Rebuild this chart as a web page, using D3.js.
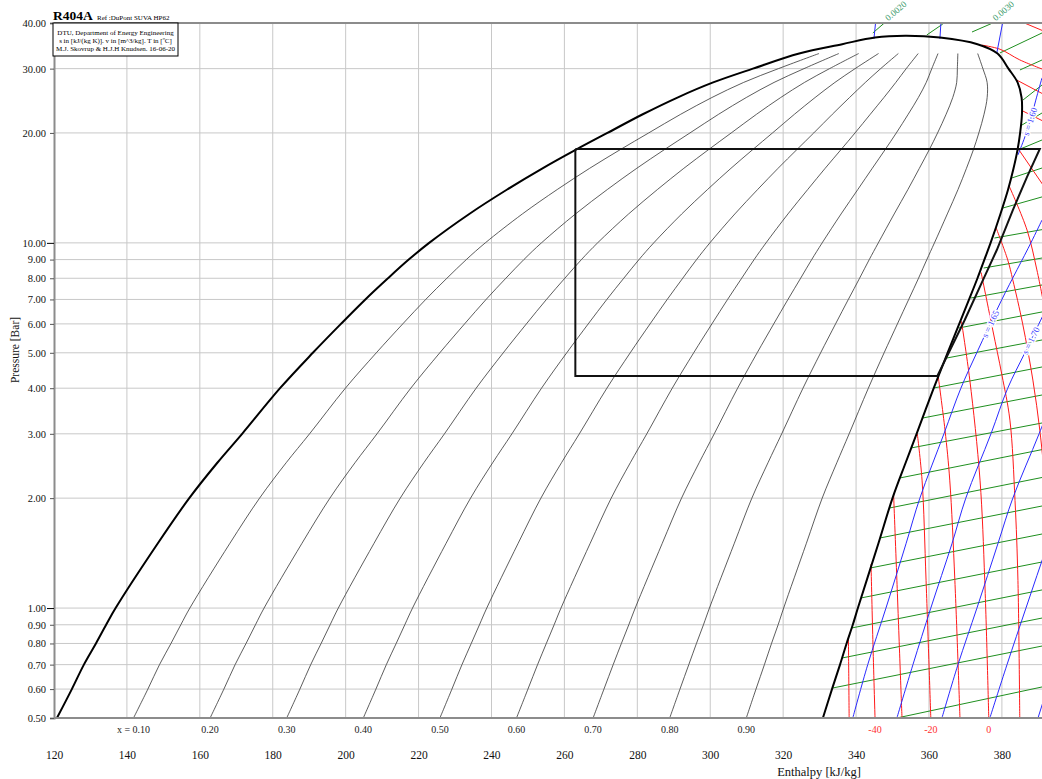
<!DOCTYPE html>
<html>
<head>
<meta charset="utf-8">
<script src="https://cdn.jsdelivr.net/npm/d3@7"></script>
<style>
  body { margin: 0; background: #fff; overflow: hidden; }
  text { font-family: "Liberation Serif", "Times New Roman", serif; }
</style>
</head>
<body>
<div id="chart"></div>
<script>
// axis ticks
const pTicks = [0.5, 0.6, 0.7, 0.8, 0.9, 1, 2, 3, 4, 5, 6, 7, 8, 9, 10, 20, 30, 40];
const hTicks = [120, 140, 160, 180, 200, 220, 240, 260, 280, 300, 320, 340, 360, 380];
const qualities = [0.1, 0.2, 0.3, 0.4, 0.5, 0.6, 0.7, 0.8, 0.9];

// saturation curve (P in bar, h in kJ/kg)
const satP  = [0.5, 0.6, 0.7, 0.8, 0.9, 1, 1.5, 2, 2.5, 3, 4, 5, 6, 7, 8, 9, 10, 12, 14, 16, 18, 20, 22.5, 25, 27.5, 30, 33, 35, 36.5];
const satHl = [120.8, 124.9, 128.2, 131.5, 134.3, 136.9, 148.4, 157.1, 164.8, 171.6, 182.0, 191.0, 198.7, 205.4, 211.6, 217.3, 222.9, 233.9, 244.3, 254.0, 263.2, 271.8, 281.5, 291.0, 300.8, 311.7, 324.4, 336.2, 345.2];
const satHv = [330.9, 333.4, 335.6, 337.4, 339.1, 340.5, 346.1, 350.0, 353.6, 356.6, 361.3, 365.1, 368.3, 371.0, 373.3, 375.2, 376.9, 379.6, 381.7, 383.2, 384.3, 385.0, 385.5, 385.4, 384.3, 381.8, 378.8, 373.3, 363.0];
const critPoint = [353.5, 36.9];
const qualityTopP = 33;

// refrigeration cycle
const cycleH = [263.0, 263.0, 362.3, 369.8, 374.8, 378.6, 383.0, 386.9, 390.4, 263.0];
const cycleP = [18.07, 4.32, 4.32, 6.15, 7.91, 9.56, 12.3, 15.16, 18.07, 18.07];

// isotherms [h, P]
const isoTemps = [-50, -40, -30, -20, -10, 0, 10, 20, 30, 40, 50, 60, 70, 80];
const isothermLines = [
  [[337.9, 0.83], [338.0, 0.65], [338.1, 0.5]],
  [[344.1, 1.32], [344.6, 0.82], [345.2, 0.5]],
  [[350.3, 2.04], [351.2, 1.19], [352.6, 0.5]],
  [[356.8, 3.0], [358.1, 2.24], [359.2, 1.19], [360.5, 0.5]],
  [[362.5, 4.33], [364.4, 3.07], [365.7, 2.24], [367.1, 1.19], [368.5, 0.5]],
  [[368.9, 6.1], [371.2, 4.21], [374.0, 2.24], [375.3, 1.19], [376.4, 0.5]],
  [[374.3, 8.3], [377.5, 5.77], [380.0, 4.35], [382.2, 3.27], [383.6, 1.97], [384.4, 1.19], [384.9, 0.5]],
  [[378.4, 11.0], [381.6, 8.98], [383.0, 7.91], [385.7, 6.0], [388.5, 4.21], [390.4, 3.07], [391.8, 2.24]],
  [[382.0, 14.3], [386.9, 10.84], [389.6, 8.43], [391.8, 6.55]],
  [[384.3, 18.2], [391.5, 14.3]],
  [[385.6, 23.0], [391.5, 21.5]],
  [[384.1, 27.9], [391.5, 25.5]],
  [[374.5, 34.8], [379.5, 33.9], [384.9, 31.7], [391.5, 29.8]],
  [[384.9, 40.5], [391.5, 38.0]]
];
const tempLabels = [-40, -20, 0];

// isentropes [h, P]
const isentropeS = [1.45, 1.50, 1.55, 1.60, 1.65, 1.70, 1.75, 1.80, 1.85];
const isentropeLines = [
  [[344.9, 36.2], [345.4, 40.5]],
  [[363.0, 36.2], [363.3, 40.5]],
  [[378.6, 33.1], [380.3, 40.5]],
  [[384.4, 17.4], [386.3, 19.5], [388.0, 22.0], [389.3, 24.6], [391.0, 28.3]],
  [[339.1, 0.5], [343.2, 0.7], [348.2, 1], [353.7, 1.5], [357.5, 2], [364.1, 3], [368.75, 4], [373.1, 5], [380.0, 7], [387.95, 10], [391.0, 11.55]],
  [[351.2, 0.5], [355.6, 0.7], [360.5, 1], [366.3, 1.5], [370.1, 2], [377.0, 3], [381.6, 4], [386.3, 5], [393.4, 7]],
  [[363.55, 0.5], [367.95, 0.7], [373.15, 1], [378.9, 1.5], [383.0, 2], [390.2, 3], [395.1, 4]],
  [[376.7, 0.5], [381.4, 0.7], [386.6, 1], [392.6, 1.5], [397.0, 2]],
  [[389.9, 0.5], [394.5, 0.7]]
];
const sLabels = [{ s: 1.60, p: 21.5 }, { s: 1.65, p: 6.0 }, { s: 1.70, p: 5.4 }];

// isochores [h, P]
const isochoreLines = [
  [[351.2, 0.5], [391.0, 0.608]],
  [[333.55, 0.604], [391.0, 0.787]],
  [[336.2, 0.730], [391.0, 0.939]],
  [[338.8, 0.882], [391.0, 1.121]],
  [[341.4, 1.066], [391.0, 1.337]],
  [[344.0, 1.288], [391.0, 1.595]],
  [[346.6, 1.556], [391.0, 1.903]],
  [[349.15, 1.879], [391.0, 2.278]],
  [[352.0, 2.271], [391.0, 2.716]],
  [[355.1, 2.744], [391.0, 3.212]],
  [[358.3, 3.315], [391.0, 3.832]],
  [[361.3, 4.005], [391.0, 4.572]],
  [[364.9, 4.839], [391.0, 5.421]],
  [[368.2, 5.848], [391.0, 6.469]],
  [[371.5, 7.065], [391.0, 7.667]],
  [[375.0, 8.534], [391.0, 9.089]],
  [[377.95, 10.31], [391.0, 10.87]],
  [[380.3, 12.46], [391.0, 13.36]],
  [[382.75, 15.06], [391.0, 16.03]],
  [[384.4, 17.96], [391.0, 19.13]],
  [[385.5, 21.02], [391.0, 22.68]],
  [[385.8, 24.62], [391.0, 27.06]],
  [[384.95, 29.75], [391.0, 31.68]],
  [[379.45, 33.11], [391.0, 37.56]],
  [[371.8, 37.79], [378.1, 40.25]],
  [[359.4, 37.09], [363.8, 39.75]],
  [[344.6, 37.56], [348.7, 40.76]]
];
const vLabels = [
  { text: "0.0020", h: 349.0, p: 40.3 },
  { text: "0.0030", h: 378.5, p: 40.3 }
];

const W = 1042, H = 779;
const margin = { top: 23, right: 0, bottom: 61, left: 54 };

const svg = d3.select("#chart").append("svg")
  .attr("width", W).attr("height", H)
  .style("background", "#fff");

const x = d3.scaleLinear().domain([120, 391]).range([margin.left, W - margin.right]);
const y = d3.scaleLog().domain([0.5, 40]).range([H - margin.bottom, margin.top]);

svg.append("clipPath").attr("id", "plot-clip")
  .append("rect")
  .attr("x", margin.left).attr("y", margin.top)
  .attr("width", W - margin.left).attr("height", y(0.5) - margin.top);

// grid
svg.append("g").selectAll("line").data(hTicks.slice(1)).join("line")
  .attr("x1", d => x(d)).attr("x2", d => x(d))
  .attr("y1", y(40)).attr("y2", y(0.5))
  .attr("stroke", "#c8c8c8").attr("stroke-width", 1);
svg.append("g").selectAll("line").data(pTicks.slice(1, -1)).join("line")
  .attr("x1", margin.left).attr("x2", W)
  .attr("y1", d => y(d)).attr("y2", d => y(d))
  .attr("stroke", "#c8c8c8").attr("stroke-width", 1);

const line = d3.line().x(d => x(d[0])).y(d => y(d[1]));
const smooth = d3.line().x(d => x(d[0])).y(d => y(d[1])).curve(d3.curveCatmullRom.alpha(0.5));

const plot = svg.append("g").attr("clip-path", "url(#plot-clip)");

// superheated region lines
plot.append("g").selectAll("path").data(isochoreLines).join("path")
  .attr("d", smooth).attr("fill", "none")
  .attr("stroke", "#1f8f1f").attr("stroke-width", 1);
plot.append("g").selectAll("path").data(isothermLines).join("path")
  .attr("d", smooth).attr("fill", "none")
  .attr("stroke", "#ff1a1a").attr("stroke-width", 1);
plot.append("g").selectAll("path").data(isentropeLines).join("path")
  .attr("d", smooth).attr("fill", "none")
  .attr("stroke", "#2a2aff").attr("stroke-width", 1);

// quality lines
qualities.forEach(q => {
  const pts = satP.map((p, i) => [satHl[i] + q * (satHv[i] - satHl[i]), p])
    .filter(d => d[1] <= qualityTopP);
  plot.append("path").datum(pts)
    .attr("d", smooth).attr("fill", "none")
    .attr("stroke", "#333").attr("stroke-width", 0.8);
});

// saturation dome
const dome = satP.map((p, i) => [satHl[i], p])
  .concat([critPoint])
  .concat(satP.map((p, i) => [satHv[i], p]).reverse());
plot.append("path").datum(dome)
  .attr("d", smooth).attr("fill", "none")
  .attr("stroke", "#000").attr("stroke-width", 2);

// cycle
plot.append("path").datum(cycleH.map((h, i) => [h, cycleP[i]]))
  .attr("d", line).attr("fill", "none")
  .attr("stroke", "#111").attr("stroke-width", 2)
  .attr("stroke-linejoin", "miter");

// line labels
function angleAt(pts, p) {
  let i = 0;
  while (i < pts.length - 2 && pts[i + 1][1] < p === pts[0][1] < p) i++;
  const a = pts[i], b = pts[i + 1];
  let ang = Math.atan2(y(b[1]) - y(a[1]), x(b[0]) - x(a[0])) * 180 / Math.PI;
  if (ang > 90) ang -= 180;
  if (ang < -90) ang += 180;
  const t = (Math.log(p) - Math.log(a[1])) / (Math.log(b[1]) - Math.log(a[1]));
  return { ang, h: a[0] + t * (b[0] - a[0]) };
}
sLabels.forEach(l => {
  const pts = isentropeLines[isentropeS.indexOf(l.s)];
  const { ang, h } = angleAt(pts, l.p);
  plot.append("text")
    .attr("transform", `translate(${x(h)},${y(l.p)}) rotate(${ang})`)
    .attr("text-anchor", "middle").attr("dy", "0.35em")
    .attr("font-size", 9).attr("fill", "#3a3aff")
    .attr("stroke", "#fff").attr("stroke-width", 3).attr("paint-order", "stroke")
    .text(`s = ${l.s.toFixed(2)}`);
});
vLabels.forEach(l => {
  svg.append("text")
    .attr("transform", `translate(${x(l.h)},${y(l.p)}) rotate(-40)`)
    .attr("text-anchor", "start").attr("dy", "-0.1em")
    .attr("font-size", 9).attr("fill", "#3a9a6a")
    .text(l.text);
});

// axes frame
svg.append("line").attr("x1", margin.left).attr("x2", W).attr("y1", y(40)).attr("y2", y(40))
  .attr("stroke", "#8c8c8c").attr("stroke-width", 2);
svg.append("line").attr("x1", margin.left).attr("x2", W).attr("y1", y(0.5)).attr("y2", y(0.5))
  .attr("stroke", "#8c8c8c").attr("stroke-width", 2);

const yAxis = d3.axisLeft(y).tickValues(pTicks).tickFormat(d3.format(".2f")).tickSize(4).tickPadding(4);
const gy = svg.append("g").attr("transform", `translate(${margin.left},0)`).call(yAxis);
gy.select(".domain").attr("stroke", "#8c8c8c").attr("stroke-width", 2);
gy.selectAll(".tick line").attr("stroke", "#555");
gy.selectAll(".tick").filter(d => d === 10 || d === 1).select("line").attr("x2", -7).attr("stroke", "#000");
gy.selectAll("text").attr("font-size", 10.5).attr("fill", "#111")
  .style("font-family", '"Liberation Serif", serif');

const xAxis = d3.axisBottom(x).tickValues(hTicks).tickSize(0).tickPadding(33);
const gx = svg.append("g").attr("transform", `translate(0,${y(0.5)})`).call(xAxis);
gx.select(".domain").remove();
gx.selectAll("text").attr("font-size", 11.5).attr("fill", "#111")
  .style("font-family", '"Liberation Serif", serif');

// quality labels
qualities.forEach(q => {
  const hq = satHl[0] + q * (satHv[0] - satHl[0]);
  svg.append("text").attr("x", x(hq)).attr("y", y(0.5) + 15)
    .attr("text-anchor", "middle").attr("font-size", 10).attr("fill", "#222")
    .text(q === 0.1 ? `x = ${q.toFixed(2)}` : q.toFixed(2));
});

// temperature labels
tempLabels.forEach(t => {
  const pts = isothermLines[isoTemps.indexOf(t)];
  const last = pts[pts.length - 1];
  svg.append("text").attr("x", x(last[0])).attr("y", y(0.5) + 15)
    .attr("text-anchor", "middle").attr("font-size", 10).attr("fill", "#ff3030")
    .text(t);
});

// axis titles
svg.append("text").attr("x", 819).attr("y", 776)
  .attr("text-anchor", "middle").attr("font-size", 12.5).attr("fill", "#111")
  .text("Enthalpy [kJ/kg]");
svg.append("text").attr("transform", "translate(19,350) rotate(-90)")
  .attr("text-anchor", "middle").attr("font-size", 11.5).attr("fill", "#111")
  .text("Pressure [Bar]");

// title and info box
svg.append("text").attr("x", 53).attr("y", 20)
  .attr("font-size", 13.5).attr("font-weight", "bold").attr("fill", "#000")
  .text("R404A");
svg.append("text").attr("x", 97).attr("y", 19.5)
  .attr("font-size", 7).attr("fill", "#000")
  .text("Ref :DuPont SUVA HP62");
svg.append("rect").attr("x", 53).attr("y", 23).attr("width", 125).attr("height", 33)
  .attr("fill", "#fff").attr("stroke", "#000").attr("stroke-width", 1);
["DTU, Department of Energy Engineering",
 "s in [kJ/(kg K)]. v in [m^3/kg]. T in [ºC]",
 "M.J. Skovrup & H.J.H Knudsen. 16-06-20"].forEach((t, i) => {
  svg.append("text").attr("x", 115.5).attr("y", 35 + i * 8)
    .attr("text-anchor", "middle").attr("font-size", 7).attr("fill", "#000")
    .text(t);
});
</script>
</body>
</html>
